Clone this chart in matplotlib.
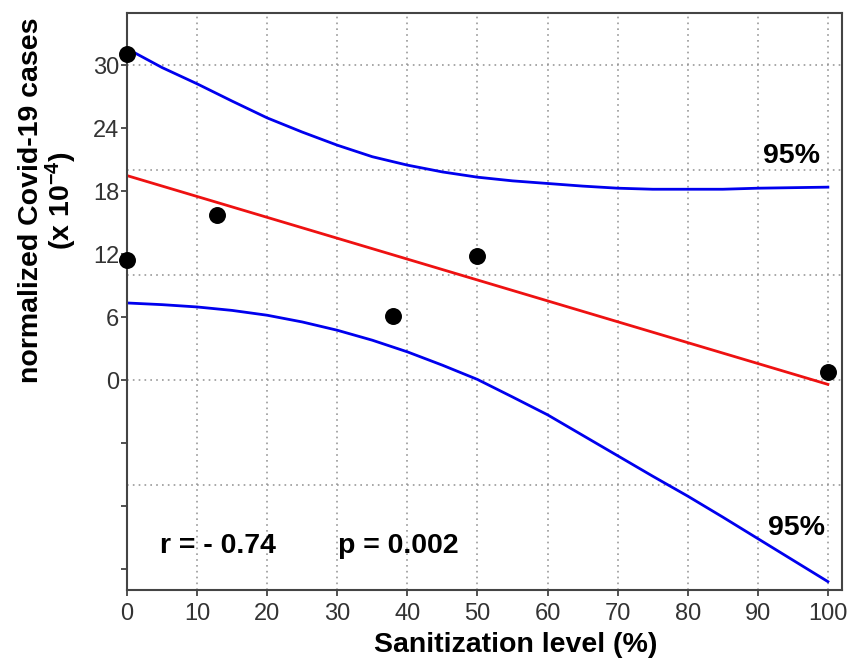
import numpy as np
import matplotlib.pyplot as plt

plt.rcParams['font.family'] = ['Liberation Sans', 'DejaVu Sans']
plt.rcParams['mathtext.fontset'] = 'custom'
plt.rcParams['mathtext.rm'] = 'Liberation Sans'
plt.rcParams['mathtext.bf'] = 'Liberation Sans:bold'
plt.rcParams['mathtext.default'] = 'bf'

# observed points
sanit = [0, 0, 12.8, 37.9, 49.9, 100]
cases = [31.1, 11.5, 15.7, 6.1, 11.8, 0.8]

# regression line
fit_x = [0, 100]
fit_y = [19.5, -0.4]

# 95% band, every 5 %
band_x = list(range(0, 101, 5))
upper = [31.6, 29.8, 28.25, 26.6, 25.0, 23.65, 22.4, 21.3, 20.5, 19.85, 19.35,
         19.0, 18.75, 18.5, 18.3, 18.2, 18.2, 18.2, 18.3, 18.35, 18.4]
lower = [7.36, 7.2, 6.98, 6.65, 6.19, 5.55, 4.76, 3.81, 2.7, 1.43, 0.07,
         -1.6, -3.3, -5.25, -7.2, -9.15, -11.05, -13.05, -15.1, -17.15, -19.2]

fig = plt.figure(figsize=(8.53, 6.63), dpi=100)
ax = fig.add_axes([0.1489, 0.1101, 0.8381, 0.8703])

ax.plot(band_x, upper, color='#0000ee', lw=2)
ax.plot(band_x, lower, color='#0000ee', lw=2)
ax.plot(fit_x, fit_y, color='#ee1111', lw=2)
ax.scatter(sanit, cases, s=125, color='black', zorder=5, clip_on=False)

ax.set_xlim(0, 102)
ax.set_ylim(-20, 35)
ax.set_xticks(range(0, 101, 10))
ax.set_yticks(range(-18, 31, 6))
ax.set_yticklabels(['' if v < 0 else str(v) for v in range(-18, 31, 6)])

# grid lines sit on a different step than the y ticks
for gx in range(10, 101, 10):
    ax.axvline(gx, color='#999999', ls=(0, (1, 2.5)), lw=1.2, zorder=0)
for gy in [-10, 0, 10, 20, 30]:
    ax.axhline(gy, color='#999999', ls=(0, (1, 2.5)), lw=1.2, zorder=0)

ax.tick_params(labelsize=17, colors='#333333', length=4.5, width=1.2)
ax.tick_params(axis='y', pad=1)
ax.tick_params(axis='x', pad=5)
for s in ax.spines.values():
    s.set_color('#444444')
    s.set_linewidth(1.5)

fig.text(0.604, 0.027, 'Sanitization level (%)', fontsize=20.5,
         fontweight='bold', ha='center', va='center')
fig.text(0.0565, 0.698, 'normalized Covid-19 cases\n(x 10$^{-4}$)', fontsize=20.5,
         fontweight='bold', ha='center', va='center', rotation=90,
         linespacing=1.0)

bold = dict(fontsize=20.5, fontweight='bold', va='baseline')
ax.text(4.7, -16.5, 'r = - 0.74', **bold)
ax.text(30.1, -16.5, 'p = 0.002', **bold)
ax.text(90.7, 20.7, '95%', **bold)
ax.text(91.4, -14.8, '95%', **bold)

fig.savefig('out.png', dpi=100)
